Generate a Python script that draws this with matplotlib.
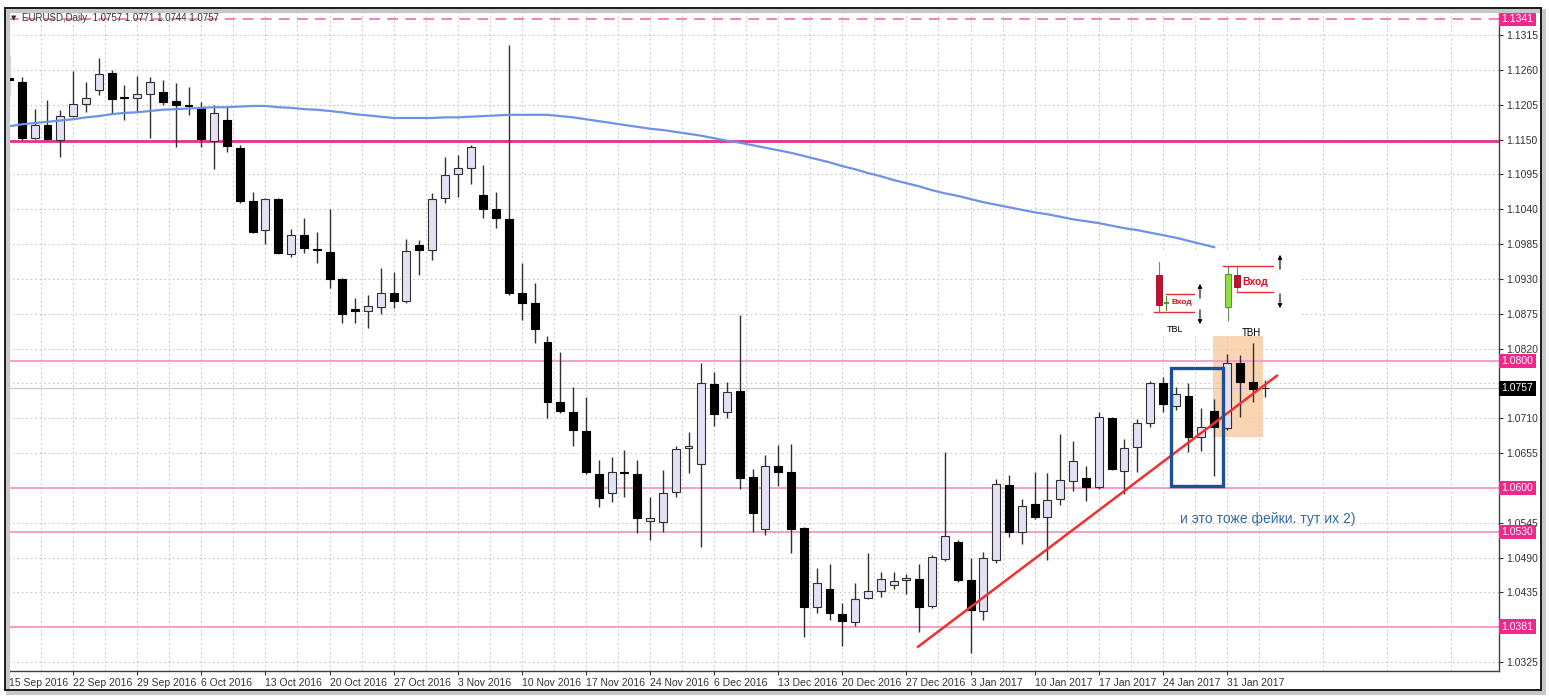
import numpy as np
import matplotlib.pyplot as plt
from matplotlib.patches import Rectangle
from matplotlib.transforms import blended_transform_factory

plt.rcParams['font.family'] = ['Liberation Sans', 'DejaVu Sans']

# EURUSD daily candles, bar 0 = 15 Sep 2016
opens = [1.1247, 1.1241, 1.1152, 1.1173, 1.1149, 1.1187, 1.1206, 1.1228, 1.1255, 1.1217,
         1.1216, 1.1222, 1.1225, 1.1211, 1.1205, 1.1201, 1.1148, 1.1181, 1.1137, 1.1053,
         1.1007, 1.1056, 1.0969, 1.0999, 1.0977, 1.0972, 1.0930, 1.0882, 1.0880, 1.0886,
         1.0908, 1.0895, 1.0983, 1.0976, 1.1058, 1.1095, 1.1105, 1.1062, 1.1040, 1.1024,
         1.0908, 1.0892, 1.0830, 1.0736, 1.0720, 1.0690, 1.0622, 1.0592, 1.0625, 1.0622,
         1.0548, 1.0546, 1.0593, 1.0663, 1.0638, 1.0764, 1.0720, 1.0753, 1.0617, 1.0535,
         1.0634, 1.0625, 1.0537, 1.0412, 1.0440, 1.0401, 1.0388, 1.0426, 1.0437, 1.0447,
         1.0455, 1.0456, 1.0413, 1.0488, 1.0514, 1.0455, 1.0405, 1.0486, 1.0605, 1.0530,
         1.0574, 1.0554, 1.0582, 1.0611, 1.0616, 1.0601, 1.0710, 1.0627, 1.0664, 1.0702,
         1.0766, 1.0729, 1.0745, 1.0680, 1.0721, 1.0695, 1.0797, 1.0767, 1.0757]
highs = [1.1283, 1.1249, 1.1198, 1.1212, 1.1197, 1.1258, 1.1241, 1.1279, 1.1260, 1.1236,
         1.1250, 1.1249, 1.1244, 1.1239, 1.1233, 1.1209, 1.1205, 1.1201, 1.1141, 1.1067,
         1.1058, 1.1058, 1.1009, 1.1026, 1.1004, 1.1040, 1.0931, 1.0900, 1.0905, 1.0947,
         1.0941, 1.0993, 1.0991, 1.1066, 1.1122, 1.1126, 1.1141, 1.1110, 1.1067, 1.1299,
         1.0955, 1.0923, 1.0840, 1.0815, 1.0759, 1.0743, 1.0644, 1.0649, 1.0660, 1.0644,
         1.0585, 1.0628, 1.0666, 1.0688, 1.0797, 1.0783, 1.0767, 1.0873, 1.0630, 1.0652,
         1.0668, 1.0670, 1.0538, 1.0473, 1.0480, 1.0418, 1.0450, 1.0497, 1.0467, 1.0467,
         1.0464, 1.0480, 1.0494, 1.0657, 1.0518, 1.0489, 1.0499, 1.0614, 1.0620, 1.0582,
         1.0625, 1.0623, 1.0685, 1.0674, 1.0634, 1.0720, 1.0712, 1.0677, 1.0709, 1.0769,
         1.0775, 1.0759, 1.0766, 1.0726, 1.0740, 1.0811, 1.0810, 1.0829, 1.0771]
lows = [1.1220, 1.1149, 1.1151, 1.1149, 1.1122, 1.1186, 1.1193, 1.1220, 1.1192, 1.1181,
        1.1193, 1.1152, 1.1205, 1.1138, 1.1189, 1.1138, 1.1103, 1.1130, 1.1050, 1.1003,
        1.0985, 1.0969, 1.0964, 1.0971, 1.0955, 1.0916, 1.0860, 1.0860, 1.0852, 1.0875,
        1.0884, 1.0892, 1.0936, 1.0960, 1.1050, 1.1059, 1.1080, 1.1026, 1.1010, 1.0905,
        1.0865, 1.0829, 1.0710, 1.0718, 1.0666, 1.0622, 1.0570, 1.0578, 1.0585, 1.0529,
        1.0518, 1.0530, 1.0585, 1.0623, 1.0507, 1.0698, 1.0710, 1.0598, 1.0530, 1.0526,
        1.0603, 1.0497, 1.0364, 1.0402, 1.0391, 1.0350, 1.0382, 1.0424, 1.0427, 1.0440,
        1.0432, 1.0372, 1.0410, 1.0485, 1.0452, 1.0339, 1.0391, 1.0481, 1.0522, 1.0511,
        1.0551, 1.0486, 1.0573, 1.0595, 1.0579, 1.0598, 1.0628, 1.0590, 1.0625, 1.0696,
        1.0720, 1.0723, 1.0657, 1.0658, 1.0619, 1.0691, 1.0712, 1.0736, 1.0744]
closes = [1.1244, 1.1152, 1.1173, 1.1151, 1.1187, 1.1206, 1.1216, 1.1253, 1.1214, 1.1216,
          1.1222, 1.1241, 1.1209, 1.1205, 1.1203, 1.1151, 1.1192, 1.1140, 1.1053, 1.1004,
          1.1056, 1.0971, 1.0999, 1.0979, 1.0976, 1.0930, 1.0875, 1.0880, 1.0887, 1.0908,
          1.0895, 1.0974, 1.0976, 1.1056, 1.1094, 1.1105, 1.1138, 1.1040, 1.1026, 1.0908,
          1.0892, 1.0851, 1.0736, 1.0721, 1.0691, 1.0625, 1.0584, 1.0625, 1.0623, 1.0552,
          1.0552, 1.0592, 1.0661, 1.0666, 1.0766, 1.0717, 1.0751, 1.0616, 1.0560, 1.0634,
          1.0625, 1.0535, 1.0412, 1.0450, 1.0402, 1.0390, 1.0424, 1.0437, 1.0456, 1.0453,
          1.0458, 1.0412, 1.0491, 1.0524, 1.0455, 1.0407, 1.0489, 1.0606, 1.0530, 1.0571,
          1.0554, 1.0581, 1.0612, 1.0642, 1.0601, 1.0712, 1.0630, 1.0663, 1.0702, 1.0766,
          1.0732, 1.0748, 1.0680, 1.0696, 1.0696, 1.0797, 1.0767, 1.0756, 1.0757]

# blue moving average (drawn up to bar 94)
ma = [1.1171, 1.1174, 1.1176, 1.1178, 1.1180, 1.1182, 1.1185, 1.1187, 1.1190, 1.1192,
      1.1193, 1.1195, 1.1197, 1.1198, 1.1199, 1.1200, 1.1201, 1.1201, 1.1202, 1.1203,
      1.1203, 1.1201, 1.1200, 1.1198, 1.1197, 1.1195, 1.1193, 1.1190, 1.1188, 1.1186,
      1.1184, 1.1184, 1.1184, 1.1184, 1.1185, 1.1185, 1.1186, 1.1187, 1.1188, 1.1189,
      1.1189, 1.1189, 1.1189, 1.1187, 1.1185, 1.1182, 1.1179, 1.1176, 1.1173, 1.1170,
      1.1167, 1.1165, 1.1162, 1.1159, 1.1156, 1.1152, 1.1148, 1.1145, 1.1141, 1.1137,
      1.1133, 1.1129, 1.1124, 1.1119, 1.1114, 1.1108, 1.1103, 1.1097, 1.1092, 1.1086,
      1.1081, 1.1076, 1.1070, 1.1065, 1.1061, 1.1056, 1.1051, 1.1047, 1.1043, 1.1039,
      1.1035, 1.1032, 1.1028, 1.1024, 1.1021, 1.1018, 1.1014, 1.1010, 1.1007, 1.1003,
      1.0999, 1.0995, 1.0990, 1.0985, 1.0980]

date_labels = ['15 Sep 2016', '22 Sep 2016', '29 Sep 2016', '6 Oct 2016', '13 Oct 2016',
               '20 Oct 2016', '27 Oct 2016', '3 Nov 2016', '10 Nov 2016', '17 Nov 2016',
               '24 Nov 2016', '6 Dec 2016', '13 Dec 2016', '20 Dec 2016', '27 Dec 2016',
               '3 Jan 2017', '10 Jan 2017', '17 Jan 2017', '24 Jan 2017', '31 Jan 2017']

levels = [1.1341, 1.0800, 1.0600, 1.0530, 1.0381]
strong_level = 1.1147
last_price = 1.0757

# trend line and the two boxes (bar index, price)
trend = [(70.9, 1.0349), (98.9, 1.0777)]
blue_box = (90.66, 1.0603, 4.0, 0.0186)
orange_box = (93.9, 1.0680, 3.95, 0.0160)

W, H = 1549, 697
fig = plt.figure(figsize=(W / 100, H / 100), dpi=100)
fig.patch.set_facecolor('white')
ax = fig.add_axes([8 / W, 26 / H, 1491 / W, 661 / H])

x = np.arange(len(opens))
o = np.array(opens)
c = np.array(closes)
up = c >= o

ax.vlines(x, lows, highs, color='#303030', lw=1, zorder=3)
body = np.maximum(np.abs(c - o), 0.00012)
bottom = np.minimum(o, c)
ax.bar(x[up], body[up], bottom=bottom[up], width=0.62, color='#e2e2f4',
       edgecolor='#303030', linewidth=0.8, zorder=4)
ax.bar(x[~up], body[~up], bottom=bottom[~up], width=0.62, color='black',
       edgecolor='black', linewidth=0.8, zorder=4)

ax.plot(np.arange(len(ma)), ma, color='#6f92e6', lw=1.6, zorder=5)

# horizontal levels
ax.axhline(levels[0], color='#f07ab8', lw=1.3, dashes=(6, 4), zorder=2)
for lv in levels[1:]:
    ax.axhline(lv, color='#f29ac6', lw=1.3, zorder=2)
ax.axhline(strong_level, color='#e8308c', lw=2, zorder=2)
ax.axhline(last_price, color='#c8c8c8', lw=0.8, zorder=2)

ax.plot([p[0] for p in trend], [p[1] for p in trend], color='#f03030', lw=1.8, zorder=6)
ax.add_patch(Rectangle(orange_box[:2], orange_box[2], orange_box[3],
                       facecolor='#f8c79a', alpha=0.75, edgecolor='none', zorder=1))
ax.add_patch(Rectangle(blue_box[:2], blue_box[2], blue_box[3], facecolor='none',
                       edgecolor='#1d4f91', lw=2.4, zorder=7))

ax.set_xlim(-0.08, 116.22)
ax.set_ylim(1.03108, 1.13545)

# axes styling
ax.yaxis.tick_right()
yt = np.arange(1.0325, 1.1316, 0.0055)
ax.set_yticks(yt)
# tick texts that sit under a level box are hidden by that box in the terminal
boxed = levels + [last_price]
ax.set_yticklabels(['' if min(abs(v - b) for b in boxed) < 0.0012 else f'{v:.4f}' for v in yt])
ax.set_xticks(np.arange(0, 96, 5))
ax.set_xticklabels(date_labels)
for lbl in ax.get_xticklabels():
    lbl.set_ha('left')
ax.set_xticks(np.arange(2.5, 117, 5), minor=True)
ax.tick_params(axis='both', which='major', labelsize=7.5, colors='#333333',
               length=3, width=0.8, pad=2)
ax.tick_params(axis='x', which='minor', length=0)
ax.grid(True, which='both', axis='x', color='#c8c8c8', lw=0.8, ls=(0, (1.5, 2.5)))
ax.grid(True, which='major', axis='y', color='#c8c8c8', lw=0.8, ls=(0, (1.5, 2.5)))
ax.set_axisbelow(True)
for s in ax.spines.values():
    s.set_color('#404040')
    s.set_linewidth(1)

tr = blended_transform_factory(ax.transAxes, ax.transData)
for lv in levels:
    ax.text(1.0018, lv, f'{lv:.4f}', transform=tr, ha='left', va='center', color='white',
            fontsize=7.5, clip_on=False, zorder=10,
            bbox=dict(boxstyle='square,pad=0.22', fc='#f0288c', ec='none'))
ax.text(1.0018, last_price, f'{last_price:.4f}', transform=tr, ha='left', va='center',
        color='white', fontsize=7.5, clip_on=False, zorder=10,
        bbox=dict(boxstyle='square,pad=0.22', fc='black', ec='none'))

# overlay in pixel units for the pasted pictures, texts and frame
ov = fig.add_axes([0, 0, 1, 1])
ov.set_xlim(0, W)
ov.set_ylim(H, 0)
ov.axis('off')
ov.patch.set_alpha(0)

ov.add_patch(Rectangle((1143, 252), 157, 84, fc='white', ec='none', zorder=1))

# TBL picture
ov.plot([1159, 1159], [262, 312], color='#808080', lw=0.8, zorder=2)
ov.add_patch(Rectangle((1156, 275), 6, 30, fc='#c8102e', ec='#8a0a1e', lw=0.6, zorder=3))
ov.plot([1166.5, 1166.5], [296, 310], color='#4a9a2a', lw=0.8, zorder=2)
ov.add_patch(Rectangle((1164, 302), 5, 2, fc='#3aa02a', ec='none', zorder=3))
ov.plot([1166, 1194], [294, 294], color='#e03030', lw=1, zorder=2)
ov.plot([1154, 1194], [312, 312], color='#e03030', lw=1, zorder=2)
ov.text(1172, 303, 'Вход', color='#d01020', fontsize=6, fontweight='bold', va='center', zorder=4)
ov.annotate('', xy=(1200, 281), xytext=(1200, 301),
            arrowprops=dict(arrowstyle='-|>', color='black', lw=0.8, mutation_scale=6))
ov.annotate('', xy=(1200, 327), xytext=(1200, 307),
            arrowprops=dict(arrowstyle='-|>', color='black', lw=0.8, mutation_scale=6))
ov.text(1167, 330, 'TBL', color='black', fontsize=6.5, va='center')

# TBH picture
ov.plot([1228, 1228], [267, 320], color='#609050', lw=0.8, zorder=2)
ov.add_patch(Rectangle((1225, 274), 6, 33, fc='#8ee03c', ec='#3a8a1a', lw=0.6, zorder=3))
ov.plot([1237, 1237], [267, 292], color='#808080', lw=0.8, zorder=2)
ov.add_patch(Rectangle((1234, 275), 6, 12, fc='#c8102e', ec='#8a0a1e', lw=0.6, zorder=3))
ov.plot([1223, 1273], [266, 266], color='#e03030', lw=1, zorder=2)
ov.plot([1237, 1273], [292, 292], color='#e03030', lw=1, zorder=2)
ov.text(1242, 282, 'Вход', color='#d01020', fontsize=7.5, fontweight='bold', va='center', zorder=4)
ov.annotate('', xy=(1280, 252), xytext=(1280, 272),
            arrowprops=dict(arrowstyle='-|>', color='black', lw=0.8, mutation_scale=6))
ov.annotate('', xy=(1280, 311), xytext=(1280, 291),
            arrowprops=dict(arrowstyle='-|>', color='black', lw=0.8, mutation_scale=6))
ov.text(1242, 333, 'TBH', color='black', fontsize=7, va='center')

ov.text(1180, 519, 'и это тоже фейки. тут их 2)', color='#2e6aa8', fontsize=10, va='center')

ov.text(11, 18, '▼', color='#333333', fontsize=5, va='center', family=['DejaVu Sans'])
ov.text(22, 18, 'EURUSD,Daily  1.0757 1.0771 1.0744 1.0757', color='#333333',
        fontsize=7, va='center')

# window frame with a light shadow
ov.add_patch(Rectangle((8.5, 10.5), 1536, 682, fc='none', ec='#c8c8c8', lw=3, zorder=0))
ov.add_patch(Rectangle((5.5, 7.5), 1536, 682, fc='none', ec='#1a1a1a', lw=1.4, zorder=1))

fig.savefig('out.png', dpi=100)
